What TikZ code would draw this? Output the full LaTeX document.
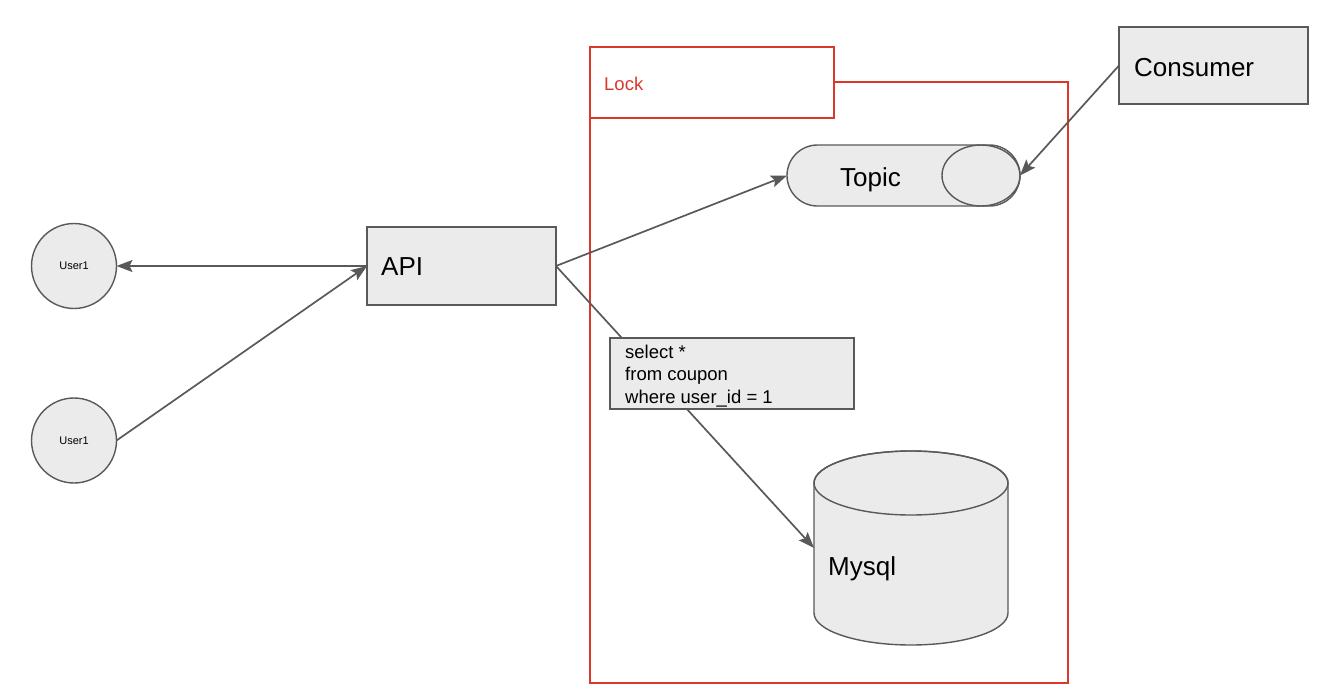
\documentclass[tikz,border=0pt]{standalone}
\usepackage{fontspec}
\setmainfont{Liberation Sans}
\usetikzlibrary{arrows.meta,shapes.misc}
\definecolor{edge}{RGB}{89,89,89}
\definecolor{boxfill}{RGB}{235,235,235}
\definecolor{lockred}{RGB}{219,56,43}
\begin{document}
\begin{tikzpicture}[x=1pt,y=-1pt,
  box/.style={draw=edge, fill=boxfill, line width=1.4pt, inner sep=0pt, outer sep=0pt},
  lockbox/.style={draw=lockred, line width=1.7pt, inner sep=0pt, outer sep=0pt},
  link/.style={draw=edge, line width=1.7pt, -{Stealth[length=16pt,width=12pt,inset=3pt]}},
  bigtext/.style={font=\fontsize{26}{30}\selectfont, inner sep=0pt, anchor=base west},
  smalltext/.style={font=\fontsize{11}{13}\selectfont},
]
\useasboundingbox (0,0) rectangle (1330,688);

% lock region with its tab
\node[lockbox, minimum width=478, minimum height=601, anchor=north west] (lockframe) at (590,82) {};
\node[lockbox, fill=white, minimum width=244, minimum height=71, anchor=north west] (locktab) at (590,47) {};
\node[bigtext, text=lockred, font=\fontsize{18.5}{22}\selectfont] (locklabel) at (604,90) {Lock};

% users
\node[box, circle, minimum size=85, smalltext] (user1) at (74,266) {User1};
\node[box, circle, minimum size=85, smalltext] (user2) at (74,440.5) {User1};

% api
\node[box, minimum width=189, minimum height=78, anchor=north west] (api) at (367,227) {};
\node[bigtext] (apilabel) at (381,275.5) {API};

% consumer
\node[box, minimum width=189, minimum height=77, anchor=north west] (consumer) at (1119,27) {};
\node[bigtext] (consumerlabel) at (1134,76.5) {Consumer};

% topic (queue drawn as a stadium with an end cap)
\node[box, rounded rectangle, minimum width=233, minimum height=61] (topic) at (903.5,175.5) {};
\draw[draw=edge, line width=1.4pt] (981,175.5) ellipse [x radius=39pt, y radius=30.5pt];
\node[bigtext] (topiclabel) at (840,186) {Topic};

% mysql cylinder
\node[minimum width=194, minimum height=194, inner sep=0pt, outer sep=0pt] (mysql) at (911,548) {};
\path[box] (814,483) -- (814,613)
  arc[start angle=180, end angle=360, x radius=97pt, y radius=32pt]
  -- (1008,483)
  arc[start angle=0, end angle=180, x radius=97pt, y radius=32pt] -- cycle;
\draw[draw=edge, line width=1.4pt] (911,483) ellipse [x radius=97pt, y radius=32pt];
\node[bigtext] (mysqllabel) at (828,575) {Mysql};

% connectors
\draw[link] (api.west) -- (user1.east);
\draw[link] (user2.east) -- (api.west);
\draw[link] (api.east) -- (topic.west);
\draw[link] (consumer.west) -- (topic.east);
\draw[link] (api.east) -- (mysql.west);

% query box over the api-to-mysql connector
\node[box, minimum width=244, minimum height=71, anchor=north west] (query) at (610,338) {};
\node[anchor=north west, align=left, inner sep=0pt, font=\fontsize{18.5}{22.5}\selectfont] (querytext) at (625,344.5) {select *\\from coupon\\where user\_id = 1};
\end{tikzpicture}
\end{document}
